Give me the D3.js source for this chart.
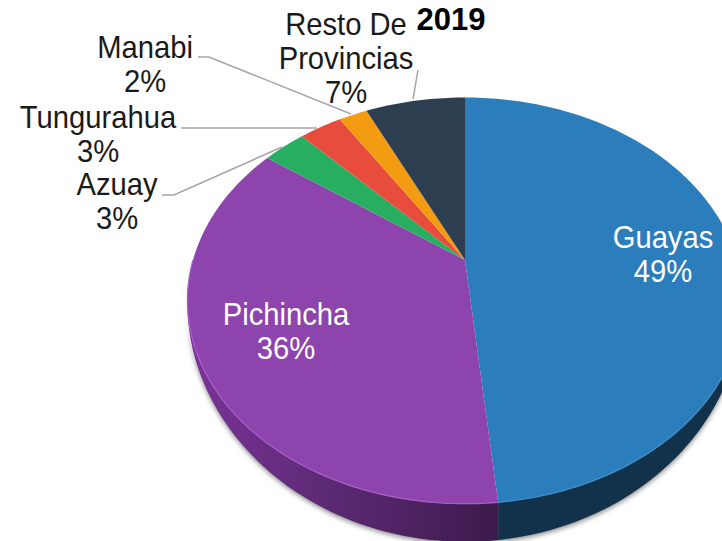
<!DOCTYPE html>
<html>
<head>
<meta charset="utf-8">
<script src="https://cdn.jsdelivr.net/npm/d3@7"></script>
<style>
html, body { margin: 0; padding: 0; background: #fff; overflow: hidden; }
text { font-family: "Liberation Sans", Arial, sans-serif; }
</style>
</head>
<body>
<div id="chart"></div>
<script>
var categories = ["Guayas", "Pichincha", "Azuay", "Tungurahua", "Manabi", "Resto De Provincias"];
var values = [48.2, 36.3, 3, 3, 2, 7];
var percentLabels = ["49%", "36%", "3%", "3%", "2%", "7%"];
var topColors = ["#2b7dbb", "#8e44ad", "#27ae60", "#e74c3c", "#f39c12", "#2c3e50"];
var sideColors = ["#12324c", "#5a2a70", "#15603a", "#7e2a20", "#85560a", "#18222c"];

var width = 722, height = 541;
// apex of the pie and the perspective of the tilted disc
var apex = { x: 465, y: 260 }, radiusX = 272, radiusY = 195, tilt = 0.2, depth = 38;

var svg = d3.select("#chart").append("svg").attr("width", width).attr("height", height);
var defs = svg.append("defs");

var blur = defs.append("filter").attr("id", "shadow").attr("x", "-10%").attr("y", "-10%").attr("width", "120%").attr("height", "120%");
blur.append("feGaussianBlur").attr("stdDeviation", 2.5);

var sideLeft = defs.append("linearGradient").attr("id", "sidePurple").attr("gradientUnits", "userSpaceOnUse")
    .attr("x1", 190).attr("y1", 0).attr("x2", 500).attr("y2", 0);
sideLeft.append("stop").attr("offset", "0%").attr("stop-color", "#7a3398");
sideLeft.append("stop").attr("offset", "40%").attr("stop-color", "#5f2b78");
sideLeft.append("stop").attr("offset", "100%").attr("stop-color", "#3c1a4b");

function project(angle, r, drop) {
    var u = Math.sin(angle) * r, v = -Math.cos(angle) * r;
    var w = 1 - tilt * v;
    return [apex.x + radiusX * u / w, apex.y + radiusY * v / w + (drop || 0)];
}

function sampleAngles(a0, a1) {
    var n = Math.max(2, Math.ceil((a1 - a0) / 0.02));
    return d3.range(n + 1).map(function (i) { return a0 + (a1 - a0) * i / n; });
}

var slices = d3.pie().sort(null).value(function (d) { return d; })(values);
var line = d3.line();

function wedgePath(d) {
    var pts = [[apex.x, apex.y]];
    sampleAngles(d.startAngle, d.endAngle).forEach(function (a) { pts.push(project(a, 1)); });
    return line(pts) + "Z";
}

function sidePath(d) {
    // only the front of the rim is visible, the wall thins out to the sides
    var a0 = Math.max(d.startAngle, Math.PI / 2), a1 = Math.min(d.endAngle, 3 * Math.PI / 2);
    if (a1 <= a0) return null;
    var angles = sampleAngles(a0, a1);
    var pts = angles.map(function (a) { return project(a, 1); });
    angles.slice().reverse().forEach(function (a) {
        pts.push(project(a, 1, depth * Math.pow(Math.max(0, -Math.cos(a)), 1.5)));
    });
    return line(pts) + "Z";
}

// soft shadow under the disc
svg.append("g").attr("filter", "url(#shadow)").selectAll("path").data(slices).join("path")
    .attr("d", sidePath).attr("fill", "#8a8a8a").attr("transform", "translate(0,2)");

svg.append("g").selectAll("path").data(slices).join("path")
    .attr("d", sidePath)
    .attr("fill", function (d, i) { return i == 1 ? "url(#sidePurple)" : sideColors[i]; });

svg.append("g").selectAll("path").data(slices).join("path")
    .attr("d", wedgePath)
    .attr("fill", function (d, i) { return topColors[i]; });

// thin light rim along the front edge
svg.append("g").selectAll("path").data(slices.slice(0, 2)).join("path")
    .attr("d", function (d) {
        var a0 = Math.max(d.startAngle, Math.PI / 2), a1 = Math.min(d.endAngle, 3 * Math.PI / 2);
        return line(sampleAngles(a0, a1).map(function (a) { return project(a, 1); }));
    })
    .attr("fill", "none").attr("stroke", function (d, i) { return i == 1 ? "#a95fca" : "#3f8fcb"; }).attr("stroke-width", 1.2);

// leader lines
var leaderLines = [
    [[198, 57], [209, 57], [351, 114]],
    [[418, 70], [413, 99]],
    [[181, 128], [317, 128]],
    [[162, 195], [174, 195], [282, 147]]
];
svg.append("g").selectAll("path").data(leaderLines).join("path")
    .attr("d", line).attr("fill", "none").attr("stroke", "#a6a6a6").attr("stroke-width", 1.5);

// labels: x, first baseline
var labelPos = [[663, 248], [286, 325], [117, 195], [98, 128], [145, 58], [346, 35]];
var labelLines = [["Guayas"], ["Pichincha"], ["Azuay"], ["Tungurahua"], ["Manabi"], ["Resto De", "Provincias"]];
var stretchY = 1.08, lineStep = 34;
var labels = svg.append("g").selectAll("text").data(categories).join("text")
    .attr("text-anchor", "middle").attr("font-size", 29.2)
    .attr("fill", function (d, i) { return i < 2 ? "#fff" : "#1a1a1a"; })
    .attr("transform", function (d, i) { return "translate(" + labelPos[i][0] + "," + labelPos[i][1] + ") scale(1," + stretchY + ")"; });
labels.each(function (d, i) {
    var t = d3.select(this);
    labelLines[i].concat(percentLabels[i]).forEach(function (s, j) {
        t.append("tspan").attr("x", 0).attr("dy", j == 0 ? 0 : lineStep / stretchY).text(s);
    });
});

svg.append("text").attr("x", 451).attr("y", 30).attr("text-anchor", "middle")
    .attr("font-size", 31).attr("font-weight", "bold").attr("fill", "#000").text("2019");
</script>
</body>
</html>
